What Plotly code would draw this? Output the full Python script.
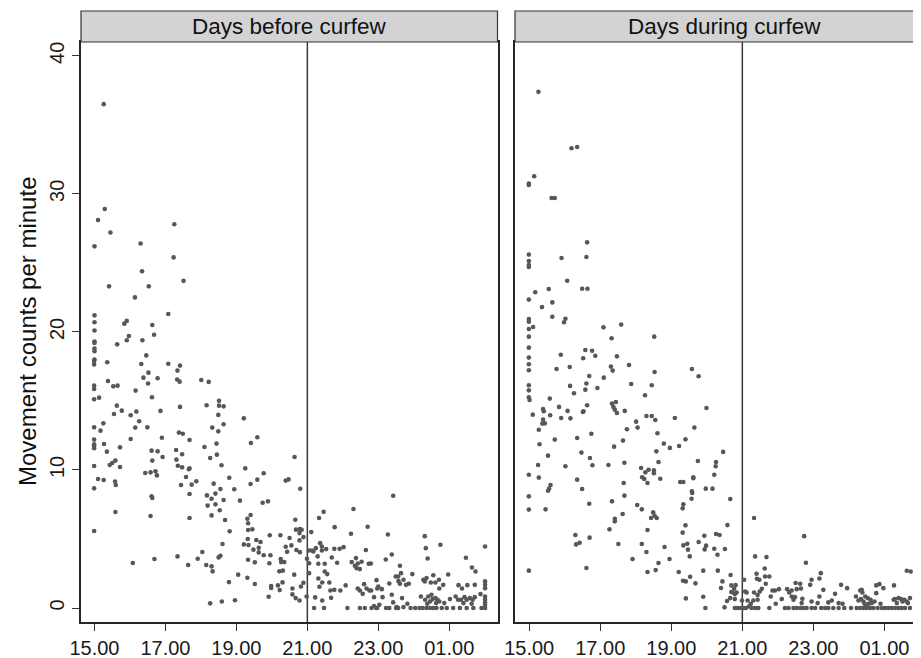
import plotly.graph_objects as go

# ---------------- data ----------------
tick_hours = [15, 17, 19, 21, 23, 25]
tick_labels = ["15.00", "17.00", "19.00", "21.00", "23.00", "01.00"]
count_ticks = [0, 10, 20, 30, 40]
panel_titles = ["Days before curfew", "Days during curfew"]
curfew_start = 21
y_title = "Movement counts per minute"

# (hour of day, hours after midnight written as 24+; movement counts per minute)
before_points = [
    (15.26, 36.5), (15.29, 28.9), (15.10, 28.1), (17.25, 27.8), (15.45, 27.2), (15.00, 26.2),
    (16.30, 26.4), (17.23, 25.4), (16.34, 24.4), (17.51, 23.7), (15.41, 23.3), (16.53, 23.3),
    (16.14, 22.5), (17.08, 21.3), (15.00, 21.2), (15.00, 20.7), (15.91, 20.8), (15.84, 20.6),
    (16.63, 20.5), (15.00, 20.1), (16.68, 19.8), (15.97, 19.7), (15.00, 19.3), (15.00, 19.2),
    (15.91, 19.4), (16.35, 19.4), (15.64, 19.1), (15.00, 18.8), (15.00, 18.6), (16.46, 18.3),
    (15.00, 18.0),
    (14.99, 17.9), (14.99, 17.65), (15.36, 17.8), (16.32, 17.68), (17.08, 17.7), (17.41, 17.56),
    (17.34, 17.2), (16.52, 17.05), (16.38, 16.69), (16.51, 16.26), (16.78, 16.64), (17.33, 16.55),
    (17.40, 16.4), (18.01, 16.52), (18.22, 16.38), (15.38, 16.45), (14.99, 16.11), (14.99, 15.87),
    (15.53, 16.06), (15.65, 16.11), (16.16, 15.75), (14.99, 15.12), (15.13, 15.24), (16.62, 15.27),
    (18.51, 15.02), (18.51, 14.66), (18.64, 14.61), (15.63, 14.66), (15.77, 14.3), (17.41, 14.57),
    (18.16, 14.69), (16.86, 14.28), (15.55, 14.06), (16.02, 13.96), (16.18, 14.23), (18.49, 13.99),
    (16.26, 13.53), (15.25, 13.38), (14.99, 13.09), (15.17, 12.85), (16.15, 13.07), (16.49, 13.09),
    (18.32, 13.07), (18.49, 12.8), (18.64, 13.31), (19.21, 13.74), (17.38, 12.71), (17.49, 12.63),
    (16.90, 12.34), (16.02, 12.25), (17.68, 12.17), (14.99, 12.2), (14.99, 11.86), (14.99, 11.74),
    (14.99, 11.57), (15.27, 11.88), (15.72, 11.64), (18.44, 11.91), (18.10, 11.67), (19.59, 12.37),
    (19.41, 11.96), (15.35, 11.33), (16.61, 11.4), (16.78, 11.35), (17.30, 11.45), (17.47, 11.14),
    (16.92, 10.94), (16.63, 10.68), (17.31, 10.75), (18.26, 10.87), (18.45, 11.11), (20.64, 10.94),
    (14.99, 10.29), (15.43, 10.36), (15.50, 10.51), (15.59, 10.68), (15.72, 10.22), (17.35, 10.31),
    (17.47, 10.19), (17.68, 10.12), (17.66, 10.05), (18.58, 10.34), (19.25, 10.12), (16.43, 9.78),
    (16.58, 9.83), (16.72, 9.9), (16.76, 9.61), (15.10, 9.35), (15.26, 9.28), (15.58, 9.16),
    (15.60, 8.91), (14.99, 8.67), (17.58, 9.49), (17.87, 9.18), (17.74, 8.94), (17.44, 8.91),
    (18.80, 9.44), (18.36, 9.01), (18.55, 8.62), (18.41, 8.29), (18.17, 8.16), (18.30, 7.92),
    (18.19, 7.42), (17.68, 8.26), (18.94, 8.6), (18.64, 7.83), (18.41, 7.51), (18.53, 7.08),
    (19.10, 7.78), (19.40, 8.99), (19.59, 9.3), (19.77, 9.76), (20.39, 9.23), (20.47, 9.32),
    (19.74, 7.63), (19.89, 7.73), (16.61, 8.09), (16.63, 7.97), (15.59, 6.96), (16.58, 6.67),
    (17.68, 6.52), (18.30, 6.71), (18.68, 6.38), (19.31, 6.47), (19.40, 6.74), (19.33, 6.14),
    (14.99, 5.58), (18.81, 5.56), (19.33, 5.65), (19.45, 5.7), (19.94, 5.27), (20.24, 5.27),
    (20.50, 5.07), (20.66, 6.4), (20.68, 5.68), (18.61, 4.64), (19.21, 4.61), (19.34, 4.57),
    (19.32, 5.0), (19.56, 4.93), (19.68, 4.78), (19.63, 4.37), (19.48, 4.23), (19.63, 4.03),
    (19.77, 3.82), (19.96, 3.82), (20.39, 4.44), (20.55, 4.54), (20.43, 4.07), (20.69, 4.2),
    (18.04, 4.06), (17.91, 3.57), (18.50, 3.67), (18.55, 3.79), (17.34, 3.74), (16.69, 3.55),
    (16.08, 3.26), (17.64, 3.12), (18.15, 3.12), (18.30, 3.02), (18.33, 2.66), (19.33, 3.5),
    (19.52, 3.31), (19.93, 3.24), (20.25, 3.55), (20.26, 3.33), (20.35, 3.33), (20.21, 2.66),
    (20.31, 2.71), (20.63, 2.42), (19.05, 2.42), (18.79, 1.88), (19.31, 2.2), (19.52, 1.74),
    (19.98, 1.59), (19.98, 1.45), (20.17, 1.64), (20.22, 1.3), (20.30, 1.86), (20.58, 1.42),
    (20.58, 0.99), (20.67, 0.72), (19.91, 0.82), (18.26, 0.34), (18.59, 0.48), (18.96, 0.56),
    (20.80, 8.64), (20.79, 5.72), (20.84, 5.67), (20.78, 5.43), (20.89, 5.14), (20.78, 4.9),
    (20.79, 4.05), (21.11, 5.5), (21.04, 4.17), (21.13, 4.17), (21.17, 4.1), (20.99, 3.57),
    (21.05, 3.25), (21.05, 2.53), (20.89, 1.83), (20.82, 1.56), (20.78, 0.55), (20.98, 0.84),
    (21.19, 0.0), (21.47, 0.0), (21.22, 0.77), (21.42, 0.55), (21.33, 6.52), (21.46, 6.97),
    (21.77, 5.86), (21.24, 4.34), (21.36, 4.7), (21.41, 4.46), (21.41, 4.17), (21.53, 4.27),
    (21.76, 4.29), (21.91, 4.29), (22.02, 4.41), (21.29, 3.74), (21.31, 3.21), (21.49, 3.21),
    (21.69, 3.66), (21.84, 3.28), (21.49, 2.65), (21.56, 2.46), (21.31, 2.14), (21.42, 1.85),
    (21.62, 1.85), (21.65, 1.27), (21.76, 1.32), (21.93, 1.27), (21.34, 1.54), (21.67, 0.74),
    (22.08, 1.64), (22.13, 0.0), (22.30, 7.17), (22.23, 5.38), (22.25, 3.33), (22.34, 3.06),
    (22.39, 2.89), (22.48, 2.82), (22.42, 3.23), (22.53, 3.35), (22.37, 3.62), (22.65, 4.2),
    (22.70, 5.89), (22.73, 3.21), (22.79, 3.23), (22.42, 1.42), (22.48, 1.27), (22.56, 1.03),
    (22.60, 1.73), (22.67, 1.42), (22.75, 1.27), (22.80, 1.27), (22.48, 0.0), (22.62, 0.0),
    (22.81, 0.0), (22.88, 0.15), (22.97, 0.0), (23.03, 0.24), (22.94, 0.0), (22.88, 0.79),
    (22.97, 1.42), (22.95, 2.02), (23.00, 1.56), (23.10, 1.37), (23.12, 0.79), (23.21, 3.52),
    (23.27, 5.33), (23.38, 3.88), (23.42, 8.13), (23.22, 0.0), (23.31, 0.0), (23.31, 1.78),
    (23.38, 0.96), (23.42, 0.41), (23.52, 0.07), (23.56, 0.0), (23.50, 0.0), (23.49, 2.29),
    (23.56, 2.29), (23.61, 3.06), (23.64, 2.53), (23.57, 1.95), (23.61, 1.76), (23.71, 2.05),
    (23.78, 1.68), (23.86, 1.76), (23.67, 0.72), (23.82, 0.31), (23.71, 0.07), (23.91, 0.0),
    (24.04, 0.0), (24.16, 0.0), (23.96, 2.46), (24.20, 0.84), (24.31, 5.21), (24.34, 4.34),
    (24.39, 3.59), (24.27, 2.05), (24.36, 2.17), (24.31, 1.93), (24.48, 1.85), (24.61, 1.85),
    (24.55, 2.38), (24.32, 0.6), (24.41, 0.84), (24.50, 0.96), (24.38, 0.31), (24.46, 0.48),
    (24.53, 0.65), (24.61, 0.72), (24.67, 0.6), (24.63, 0.36), (24.72, 0.48), (24.25, 0.0),
    (24.36, 0.0), (24.46, 0.0), (24.55, 0.0), (24.64, 0.0), (24.79, 0.0), (24.93, 0.0),
    (25.11, 0.0), (24.75, 4.58), (24.71, 2.05), (24.83, 1.68), (24.97, 2.43), (24.72, 1.42),
    (24.86, 0.36), (25.02, 0.65), (25.18, 0.84), (25.25, 0.6), (25.47, 3.64), (25.26, 1.66),
    (25.36, 1.42), (25.51, 1.66), (25.33, 0.6), (25.43, 0.79), (25.49, 0.6), (25.58, 0.72),
    (25.66, 0.6), (25.72, 0.79), (25.40, 0.36), (25.63, 0.31), (25.30, 0.0), (25.49, 0.0),
    (25.68, 0.0), (25.91, 0.0), (26.01, 0.0), (25.64, 2.94), (25.74, 2.65), (25.72, 1.68),
    (25.88, 1.01), (26.01, 4.46), (26.01, 1.93), (26.01, 1.68), (26.01, 1.44), (26.01, 0.84),
    (26.01, 0.6), (26.01, 0.41), (26.01, 0.24),
]

during_points = [
    (15.26, 37.39), (16.19, 33.3), (16.35, 33.4), (15.14, 31.28), (14.99, 30.74), (14.99, 30.65),
    (15.63, 29.7), (15.72, 29.7), (16.63, 26.49), (14.99, 25.6), (14.99, 25.14), (14.99, 24.85),
    (14.99, 24.71), (15.91, 25.36), (16.61, 25.43), (16.07, 23.71), (15.17, 22.87), (15.55, 23.11),
    (16.49, 23.13), (16.64, 23.13), (14.99, 22.34), (15.65, 22.14), (15.36, 21.8), (15.65, 21.1),
    (14.99, 20.94), (14.99, 20.74), (16.02, 20.96), (15.98, 20.7), (14.99, 20.21), (15.11, 20.36),
    (17.09, 20.33), (17.59, 20.53), (14.99, 19.66), (17.32, 19.54), (18.52, 19.66), (14.99, 18.86),
    (15.89, 18.35), (16.58, 18.69), (16.77, 18.64), (16.86, 18.28), (17.47, 18.23), (16.52, 18.09),
    (14.99, 18.14),
    (14.99, 17.66), (14.99, 17.22), (15.77, 17.32), (16.14, 17.46), (17.30, 17.49), (17.35, 17.2),
    (17.81, 17.61), (18.53, 17.1), (19.58, 17.32), (19.77, 16.79), (16.69, 16.81), (17.10, 16.69),
    (14.99, 16.14), (14.99, 15.77), (16.15, 16.09), (16.61, 16.26), (16.58, 15.82), (16.92, 15.94),
    (16.26, 15.56), (17.87, 16.23), (18.45, 16.14), (18.26, 15.41), (14.99, 15.27), (15.01, 15.07),
    (15.58, 15.17), (17.33, 14.81), (17.44, 14.93), (17.37, 14.57), (17.41, 14.37), (17.47, 14.13),
    (17.69, 14.28), (16.63, 14.69), (16.53, 14.25), (16.51, 14.2), (15.84, 14.57), (16.08, 14.28),
    (15.39, 14.42), (15.41, 14.25), (15.10, 14.01), (15.59, 13.96), (15.90, 13.77), (16.16, 13.74),
    (15.39, 13.65), (15.37, 13.36), (15.44, 13.38), (15.27, 12.92), (18.30, 13.91), (18.45, 13.91),
    (18.55, 13.62), (18.01, 13.5), (18.05, 13.07), (17.75, 12.95), (19.10, 13.77), (19.99, 14.49),
    (19.65, 13.07), (15.72, 12.2), (15.29, 11.86), (16.35, 12.32), (16.75, 12.63), (17.64, 12.13),
    (17.39, 11.69), (18.61, 12.66), (18.79, 11.91), (18.96, 11.6), (19.22, 11.74), (19.40, 12.22),
    (15.53, 11.04), (16.47, 11.26), (16.71, 10.87), (16.78, 10.34), (17.23, 10.36), (17.68, 10.53),
    (18.58, 11.35), (18.64, 10.58), (15.25, 10.36), (16.02, 10.27), (20.46, 11.31), (19.75, 10.65),
    (20.26, 10.58), (20.25, 10.27), (20.21, 9.66), (14.99, 9.66), (15.27, 9.45), (18.15, 10.14),
    (18.27, 9.83), (18.36, 10.02), (18.51, 9.98), (18.51, 9.76), (18.18, 9.47), (18.24, 9.35),
    (18.33, 9.06), (18.69, 9.37), (16.35, 9.3), (15.60, 8.91), (15.56, 8.65), (15.53, 8.5),
    (16.49, 8.62), (17.66, 9.06), (17.68, 8.14), (19.25, 9.13), (19.34, 9.13), (19.62, 9.47),
    (19.62, 9.4), (19.58, 8.45), (19.59, 8.33), (19.57, 7.92), (19.97, 8.65), (20.16, 8.65),
    (20.66, 7.9), (14.99, 8.09), (14.99, 7.13), (15.46, 7.15), (16.69, 7.56), (17.33, 7.73),
    (18.04, 7.46), (18.17, 7.15), (17.63, 6.81), (18.49, 6.93), (18.53, 6.69), (18.43, 6.52),
    (18.59, 6.52), (17.41, 6.47), (17.41, 6.28), (17.26, 5.7), (18.33, 5.65), (19.34, 7.51),
    (19.32, 7.22), (19.40, 5.99), (19.32, 5.46), (20.58, 6.01), (16.30, 5.29), (16.42, 4.73),
    (16.32, 4.61), (16.70, 5.1), (17.51, 4.64), (18.17, 4.64), (18.30, 4.06), (17.91, 3.55),
    (18.81, 4.42), (18.95, 3.55), (18.64, 3.26), (18.56, 2.75), (18.33, 2.61), (19.34, 4.54),
    (19.45, 4.66), (19.47, 4.23), (19.52, 3.74), (19.77, 4.78), (19.93, 5.24), (19.98, 4.52),
    (19.94, 4.25), (20.26, 5.36), (20.36, 5.29), (20.21, 4.3), (20.30, 3.86), (20.51, 4.28),
    (14.99, 2.71), (16.61, 2.9), (19.21, 2.61), (19.33, 1.98), (19.41, 1.93), (19.53, 2.27),
    (19.68, 1.79), (19.90, 2.71), (20.31, 2.71), (20.67, 2.39), (20.44, 1.93), (20.40, 1.45),
    (20.69, 1.64), (20.69, 1.16), (19.41, 0.7), (19.90, 0.82), (19.96, 0.0), (20.50, 0.05),
    (20.57, 0.51), (20.66, 0.72),
    (20.81, 1.66), (20.77, 1.4), (20.72, 1.15), (20.79, 1.01), (20.84, 1.13), (20.79, 0.65),
    (20.85, 0.0), (20.93, 0.0), (20.79, 0.0), (21.05, 2.05), (21.12, 1.13), (21.08, 1.2),
    (20.99, 0.55), (21.15, 0.55), (21.03, 0.0), (21.10, 0.0), (21.19, 0.12), (21.26, 0.0),
    (21.36, 0.0), (21.45, 0.0), (21.24, 0.31), (21.33, 6.52), (21.36, 3.74), (21.68, 3.69),
    (21.40, 2.48), (21.41, 2.12), (21.48, 2.05), (21.63, 2.87), (21.64, 2.29), (21.76, 2.29),
    (21.66, 1.76), (21.55, 1.4), (21.49, 1.2), (21.43, 0.94), (21.33, 1.13), (21.31, 0.55),
    (21.43, 0.6), (21.80, 0.84), (21.85, 1.27), (21.92, 1.27), (22.03, 1.37), (21.76, 0.0),
    (21.94, 0.31), (22.11, 0.65), (22.26, 1.37), (22.32, 1.13), (22.39, 1.27), (22.50, 1.81),
    (22.63, 1.76), (22.53, 1.37), (22.65, 1.42), (22.74, 5.21), (22.79, 3.28), (22.91, 1.68),
    (22.95, 2.05), (23.17, 2.14), (23.21, 2.53), (23.28, 1.32), (22.39, 0.84), (22.48, 0.79),
    (22.44, 0.6), (22.69, 0.67), (22.67, 0.36), (22.95, 0.48), (23.12, 0.36), (23.17, 0.84),
    (22.20, 0.0), (22.30, 0.0), (22.44, 0.0), (22.53, 0.0), (22.63, 0.0), (22.72, 0.0),
    (22.81, 0.0), (22.95, 0.0), (23.05, 0.0), (23.22, 0.0), (23.33, 0.0), (23.42, 0.0),
    (23.42, 0.41), (23.52, 0.55), (23.61, 1.03), (23.71, 0.36), (23.78, 1.68), (23.95, 1.44),
    (23.56, 0.0), (23.71, 0.0), (23.87, 0.0), (24.06, 0.0), (23.82, 0.31), (24.20, 0.84),
    (24.32, 1.27), (24.36, 1.32), (24.38, 1.13), (24.27, 0.55), (24.34, 0.65), (24.41, 0.48),
    (24.46, 0.84), (24.53, 0.72), (24.61, 0.6), (24.55, 0.31), (24.64, 0.36), (24.72, 0.48),
    (24.44, 0.31), (24.50, 0.12), (24.22, 0.0), (24.32, 0.0), (24.41, 0.0), (24.50, 0.0),
    (24.60, 0.0), (24.69, 0.0), (24.81, 0.0), (24.93, 0.0), (25.02, 0.0), (25.11, 0.0),
    (25.21, 0.0), (25.30, 0.0), (25.40, 0.0), (25.49, 0.0), (25.58, 0.0), (25.72, 0.0),
    (25.88, 0.0), (24.77, 1.64), (24.86, 1.73), (24.97, 1.44), (24.77, 1.08), (24.89, 0.31),
    (25.27, 1.64), (25.26, 0.6), (25.30, 0.65), (25.40, 0.72), (25.47, 0.65), (25.56, 0.6),
    (25.35, 0.36), (25.51, 0.48), (25.63, 0.48), (25.72, 0.72), (25.66, 0.36), (25.63, 2.7),
    (25.74, 2.65), (25.88, 1.01), (25.99, 1.68), (26.01, 1.44), (26.01, 0.84), (26.01, 0.55),
]

before_hour = [p[0] for p in before_points]
before_count = [p[1] for p in before_points]
during_hour = [p[0] for p in during_points]
during_count = [p[1] for p in during_points]

# ---------------- figure ----------------
# The page body has an 8 px margin, so the figure is laid out 8 px smaller.
OFF = 8
W, H = 921 - OFF, 658 - OFF
ML, MR, MT, MB = 81 - OFF, 0, 11 - OFF, 658 - 622
pw = W - ML - MR
ph = H - MT - MB


def px_x(p):
    return (p - OFF - ML) / pw


def px_y(p):
    return 1 - (p - OFF - MT) / ph


plot_top = px_y(42)
left_dom = [0, px_x(497.5)]
right_dom = [px_x(515), 1.0]

dot = dict(size=4.6, color="#575757", line=dict(width=0))
fig = go.Figure()
fig.add_trace(go.Scatter(x=before_hour, y=before_count, mode="markers", marker=dot,
                         xaxis="x", yaxis="y", showlegend=False, hoverinfo="skip"))
fig.add_trace(go.Scatter(x=during_hour, y=during_count, mode="markers", marker=dot,
                         xaxis="x2", yaxis="y2", showlegend=False, hoverinfo="skip"))

axis_line = dict(showline=True, linecolor="#262626", linewidth=1.5, showgrid=False, zeroline=False)
xcommon = dict(tickvals=tick_hours, ticktext=tick_labels, ticks="outside", ticklen=7,
               tickwidth=1.2, tickcolor="#333333",
               tickfont=dict(size=20, color="#1a1a1a"), mirror=True, **axis_line)

fig.update_layout(
    width=W, height=H,
    margin=dict(l=ML, r=MR, t=MT, b=MB, autoexpand=False),
    paper_bgcolor="white", plot_bgcolor="white",
    font=dict(family="Liberation Sans, Arial, sans-serif", color="#1a1a1a"),
    xaxis=dict(domain=left_dom, range=[14.62, 26.36], anchor="y", **xcommon),
    xaxis2=dict(domain=right_dom, range=[14.60, 26.03], anchor="y2", **xcommon),
    yaxis=dict(domain=[0, plot_top], range=[-1.01, 41.0], anchor="x", tickvals=count_ticks,
               ticks="outside", ticklen=7, tickwidth=1.2, tickcolor="#333333", tickangle=-90,
               tickfont=dict(size=20, color="#1a1a1a"), mirror=True, **axis_line),
    yaxis2=dict(domain=[0, plot_top], range=[-1.01, 41.0], anchor="x2", tickvals=count_ticks,
                showticklabels=False, ticks="", mirror=False, **axis_line),
)

shapes = []
for xr, yr in [("x", "y"), ("x2", "y2")]:
    shapes.append(dict(type="line", xref=xr, yref=yr + " domain",
                       x0=curfew_start, x1=curfew_start, y0=0, y1=1,
                       line=dict(color="#3a3a3a", width=1.5), layer="below"))
# strip headers
shapes.append(dict(type="rect", xref="paper", yref="paper", x0=left_dom[0], x1=left_dom[1],
                   y0=plot_top, y1=1.0, fillcolor="#d3d3d3", line=dict(color="#333333", width=1.2)))
shapes.append(dict(type="rect", xref="paper", yref="paper", x0=right_dom[0], x1=1.03,
                   y0=plot_top, y1=1.0, fillcolor="#d3d3d3", line=dict(color="#333333", width=1.2)))
fig.update_layout(shapes=shapes)

annotations = [
    dict(text=panel_titles[0], xref="paper", yref="paper", x=(left_dom[0] + left_dom[1]) / 2,
         y=(plot_top + 1) / 2, xanchor="center", yanchor="middle", showarrow=False,
         font=dict(size=22.5, color="#111111")),
    dict(text=panel_titles[1], xref="paper", yref="paper", x=px_x(724),
         y=(plot_top + 1) / 2, xanchor="center", yanchor="middle", showarrow=False,
         font=dict(size=22.5, color="#111111")),
    dict(text=y_title, xref="paper", yref="paper", x=px_x(27), y=plot_top / 2,
         xanchor="center", yanchor="middle", showarrow=False, textangle=-90,
         font=dict(size=24, color="#111111")),
]
fig.update_layout(annotations=annotations)

fig.write_html("out.html")
